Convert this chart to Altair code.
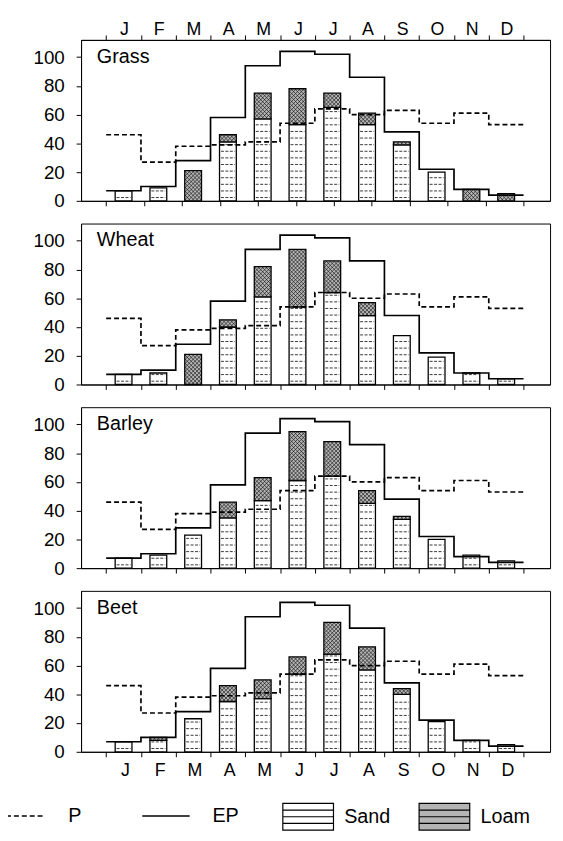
import json
import altair as alt
import numpy as np
import pandas as pd

# ---------------- data ----------------
months = ['J', 'F', 'M', 'A', 'M', 'J', 'J', 'A', 'S', 'O', 'N', 'D']
crops = ['Grass', 'Wheat', 'Barley', 'Beet']

# precipitation (P, dashed) and potential evaporation (EP, solid), mm per month
p_monthly = [46, 27, 38, 39, 41, 54, 64, 60, 63, 54, 61, 53]
ep_monthly = [7, 10, 28, 58, 94, 104, 102, 86, 48, 22, 8, 4]

# bars: height of the sand-hatched part and total height (loam) per month
grass_sand = [7, 9, 0, 41, 57, 53, 65, 53, 39, 20, 0, 0]
grass_loam = [7, 9, 21, 46, 75, 78, 75, 61, 41, 20, 8, 5]
wheat_sand = [7, 8, 0, 40, 61, 54, 64, 48, 34, 19, 8, 4]
wheat_loam = [7, 8, 21, 45, 82, 94, 86, 57, 34, 19, 8, 4]
barley_sand = [7, 9, 23, 35, 47, 61, 64, 45, 34, 20, 9, 5]
barley_loam = [7, 9, 23, 46, 63, 95, 88, 54, 36, 20, 9, 5]
beet_sand = [7, 8, 23, 35, 37, 54, 68, 57, 40, 21, 8, 5]
beet_loam = [7, 10, 23, 46, 50, 66, 90, 73, 44, 21, 8, 5]

sand_by_crop = {'Grass': grass_sand, 'Wheat': wheat_sand, 'Barley': barley_sand, 'Beet': beet_sand}
loam_by_crop = {'Grass': grass_loam, 'Wheat': wheat_loam, 'Barley': barley_loam, 'Beet': beet_loam}

# ---------------- geometry of the panels ----------------
PLOT_W, PLOT_H = 475, 163
X_DOMAIN = [-0.58, 12.62]
Y_DOMAIN = [0, 112]
BAR_PX = 17
px_per_month = PLOT_W / (X_DOMAIN[1] - X_DOMAIN[0])
px_per_unit = PLOT_H / (Y_DOMAIN[1] - Y_DOMAIN[0])
bar_w = BAR_PX / px_per_month          # bar width in months

# ---------------- tables built from the arrays ----------------
HATCH_STEP = 4.6      # spacing of sand hatch lines (data units)
CROSS_STEP = 4.0      # spacing of loam cross-hatch lines (pixels)
bar_rows, hatch_rows, cross_rows = [], [], []
for crop in crops:
    for m in range(12):
        s = sand_by_crop[crop][m]
        t = loam_by_crop[crop][m]
        mid = m + 0.5
        if s > 0:
            bar_rows.append(dict(crop=crop, mid=mid, y0=0, y1=s, soil='Sand'))
        if t > s:
            bar_rows.append(dict(crop=crop, mid=mid, y0=s, y1=t, soil='Loam'))
            # cross-hatching clipped to the loam segment
            h = (t - s) * px_per_unit
            xl = mid - bar_w / 2
            for sign in (1, -1):
                for c in np.arange(-BAR_PX + CROSS_STEP / 2, h, CROSS_STEP):
                    u0 = max(0.0, -c / BAR_PX)
                    u1 = min(1.0, (h - c) / BAR_PX)
                    if u1 <= u0:
                        continue
                    v0 = c + u0 * BAR_PX
                    v1 = c + u1 * BAR_PX
                    if sign == 1:
                        xa, xb = xl + u0 * bar_w, xl + u1 * bar_w
                    else:
                        xa, xb = xl + (1 - u0) * bar_w, xl + (1 - u1) * bar_w
                    cross_rows.append(dict(crop=crop, xa=xa, xb=xb,
                                           ya=s + v0 / px_per_unit, yb=s + v1 / px_per_unit))
        for lv in np.arange(HATCH_STEP / 2, s - 1.0, HATCH_STEP):
            hatch_rows.append(dict(crop=crop, xa=mid - 0.2, xb=mid + 0.2, level=float(lv)))
bars_df = pd.DataFrame(bar_rows)
hatch_df = pd.DataFrame(hatch_rows)
cross_df = pd.DataFrame(cross_rows)

line_rows = []
for name, vals in [('P', p_monthly), ('EP', ep_monthly)]:
    for i, v in enumerate(vals + [vals[-1]]):
        line_rows.append(dict(series=name, idx=i, value=v))
lines_df = pd.DataFrame(line_rows)

# ---------------- scales, axes, legends ----------------
FONT = 'Liberation Sans'
x_scale = alt.Scale(domain=X_DOMAIN, nice=False, zero=False)
y_scale = alt.Scale(domain=Y_DOMAIN, nice=False, zero=True)
month_expr = "datum.value < 12 ? %s[round(datum.value)] : ''" % json.dumps(months)

common_x = dict(grid=False, title=None, tickSize=5, labelFlush=False, labelOverlap=False,
                labelFontSize=18, labelFont=FONT)

top_axis = alt.Axis(orient='top', values=list(range(13)), labelExpr=month_expr,
                    labelOffset=18, labelPadding=-4, **common_x)
bottom_label_axis = alt.Axis(orient='bottom', values=list(range(13)), labelExpr=month_expr,
                             labelOffset=19, labelPadding=5, **common_x)
bottom_tick_axis = alt.Axis(orient='bottom', values=list(range(13)), labels=False, **common_x)
grass_bottom_axis = alt.Axis(orient='bottom', values=[i * 12 / 11 for i in range(12)],
                             labels=False, **common_x)

y_axis = alt.Axis(values=[0, 20, 40, 60, 80, 100], tickSize=5, labelPadding=12, labelFontSize=19,
                  grid=False, title=None, labelFlush=False, labelFont=FONT)

fill_scale = alt.Scale(domain=['Sand', 'Loam'], range=['white', '#b4b4b4'])
dash_scale = alt.Scale(domain=['P', 'EP'], range=[[5, 3], [1, 0]])

SWATCH = 'M-1.9,-1H1.9V1H-1.9Z M-1.9,-0.5H1.9 M-1.9,0H1.9 M-1.9,0.5H1.9'
fill_legend = alt.Legend(title=None, orient='none', legendX=215.5, legendY=772, direction='horizontal',
                         symbolType=SWATCH, symbolSize=729, symbolStrokeColor='black',
                         symbolStrokeWidth=1.2, labelFontSize=20, labelOffset=22, columnPadding=26,
                         padding=0, labelFont=FONT, labelColor='black')
dash_legend = alt.Legend(title=None, orient='none', legendX=-73, legendY=773, direction='horizontal',
                         symbolType='M-2,0H2', symbolSize=576, symbolStrokeColor='black',
                         symbolStrokeWidth=1.5, symbolFillColor='transparent', labelFontSize=20,
                         labelOffset=34, columnPadding=58, padding=0, labelFont=FONT,
                         labelColor='black')


def panel(crop, bar_axis, line_axis, hatch_axis):
    bars = alt.Chart(bars_df[bars_df.crop == crop]).mark_bar(
        size=BAR_PX, stroke='black', strokeWidth=1.3).encode(
        x=alt.X('mid:Q', scale=x_scale, axis=bar_axis),
        y=alt.Y('y1:Q', scale=y_scale, axis=y_axis),
        y2='y0:Q',
        fill=alt.Fill('soil:N', scale=fill_scale, legend=fill_legend),
    )
    hatch = alt.Chart(hatch_df[hatch_df.crop == crop]).mark_rule(
        color='#222222', strokeWidth=0.9, strokeDash=[3, 1.5]).encode(
        x=alt.X('xa:Q', scale=x_scale, axis=hatch_axis),
        x2='xb:Q',
        y=alt.Y('level:Q', scale=y_scale, axis=y_axis),
    )
    cross = alt.Chart(cross_df[cross_df.crop == crop]).mark_rule(
        color='#1a1a1a', strokeWidth=0.7).encode(
        x=alt.X('xa:Q', scale=x_scale, axis=hatch_axis),
        x2='xb:Q',
        y=alt.Y('ya:Q', scale=y_scale, axis=y_axis),
        y2='yb:Q',
    )
    lines = alt.Chart(lines_df).mark_line(
        interpolate='step-after', color='black', strokeWidth=1.7).encode(
        x=alt.X('idx:Q', scale=x_scale, axis=line_axis),
        y=alt.Y('value:Q', scale=y_scale, axis=y_axis),
        strokeDash=alt.StrokeDash('series:N', scale=dash_scale, legend=dash_legend),
    )
    label = alt.Chart(pd.DataFrame({'crop': [crop]})).mark_text(
        align='left', baseline='alphabetic', fontSize=20, font=FONT, color='black').encode(
        x=alt.value(16), y=alt.value(23), text='crop:N')
    return alt.layer(bars, hatch, cross, lines, label).properties(width=PLOT_W, height=PLOT_H)


grass = panel('Grass', top_axis, grass_bottom_axis, None).resolve_axis(x='independent')
wheat = panel('Wheat', bottom_tick_axis, bottom_tick_axis, bottom_tick_axis)
barley = panel('Barley', bottom_tick_axis, bottom_tick_axis, bottom_tick_axis)
beet = panel('Beet', bottom_label_axis, bottom_label_axis, bottom_label_axis)

chart = alt.vconcat(grass, wheat, barley, beet, spacing=11).resolve_scale(
    fill='shared', strokeDash='shared').properties(
    padding={'left': 1, 'top': 7, 'right': 4, 'bottom': 0}
).configure(font=FONT).configure_view(stroke='black', strokeWidth=1).configure_axis(
    domainColor='black', tickColor='black', labelColor='black', domainWidth=1, tickWidth=1
)

chart.save("out.html", embed_options={"renderer": "svg", "actions": False})
